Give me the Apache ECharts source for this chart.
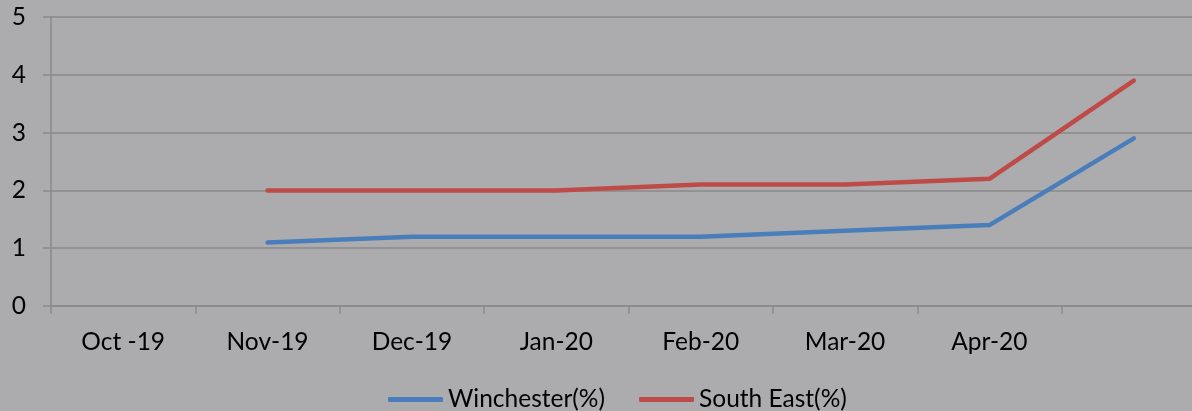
<!DOCTYPE html>
<html>
<head>
<meta charset="utf-8">
<script src="https://cdn.jsdelivr.net/npm/echarts@6/dist/echarts.min.js"></script>
<style>
    html, body { margin: 0; padding: 0; background: #acacae; }
    #chart { width: 1192px; height: 411px; }
</style>
</head>
<body>
<div id="chart"></div>
<script>
const months = ['Oct -19', 'Nov-19', 'Dec-19', 'Jan-20', 'Feb-20', 'Mar-20', 'Apr-20', ''];
const winchester = [null, 1.1, 1.2, 1.2, 1.2, 1.3, 1.4, 2.9];
const southEast = [null, 2.0, 2.0, 2.0, 2.1, 2.1, 2.2, 3.9];
const yTicks = [0, 5, 1];

const gridColor = '#8a8a8a';
const fontFamily = 'Lato, "Liberation Sans", sans-serif';

const chart = echarts.init(document.getElementById('chart'));
chart.setOption({
    backgroundColor: '#acacae',
    animation: false,
    textStyle: {fontFamily: fontFamily},
    // plot area runs past the right edge of the picture
    grid: {left: 51, width: 1155, top: 17, bottom: 105, outerBoundsMode: 'none', containLabel: false},
    legend: {
        top: 382,
        left: 383,
        icon: 'roundRect',
        itemWidth: 55,
        itemHeight: 5,
        itemGap: 34,
        textStyle: {fontSize: 24.5, color: '#000', fontFamily: fontFamily},
        data: ['Winchester(%)', 'South East(%)'],
    },
    xAxis: {
        type: 'category',
        data: months,
        boundaryGap: true,
        axisLine: {lineStyle: {color: gridColor, width: 1.5}},
        axisTick: {show: true, length: 8, interval: 0, lineStyle: {color: gridColor, width: 1.5}},
        axisLabel: {color: '#000', fontSize: 24.5, margin: 24, interval: 0},
    },
    yAxis: {
        type: 'value',
        min: yTicks[0],
        max: yTicks[1],
        interval: yTicks[2],
        axisLine: {show: true, lineStyle: {color: gridColor, width: 1.5}},
        axisTick: {show: true, length: 8, lineStyle: {color: gridColor, width: 1.5}},
        splitLine: {lineStyle: {color: gridColor, width: 1.5}},
        axisLabel: {color: '#000', fontSize: 24.5, margin: 25},
    },
    series: [
        {
            name: 'Winchester(%)',
            type: 'line',
            data: winchester,
            symbol: 'none',
            color: '#4a7ebb',
            lineStyle: {width: 4.5, cap: 'round', join: 'round'},
        },
        {
            name: 'South East(%)',
            type: 'line',
            data: southEast,
            symbol: 'none',
            color: '#be4b48',
            lineStyle: {width: 4.5, cap: 'round', join: 'round'},
        },
    ],
});
</script>
</body>
</html>
